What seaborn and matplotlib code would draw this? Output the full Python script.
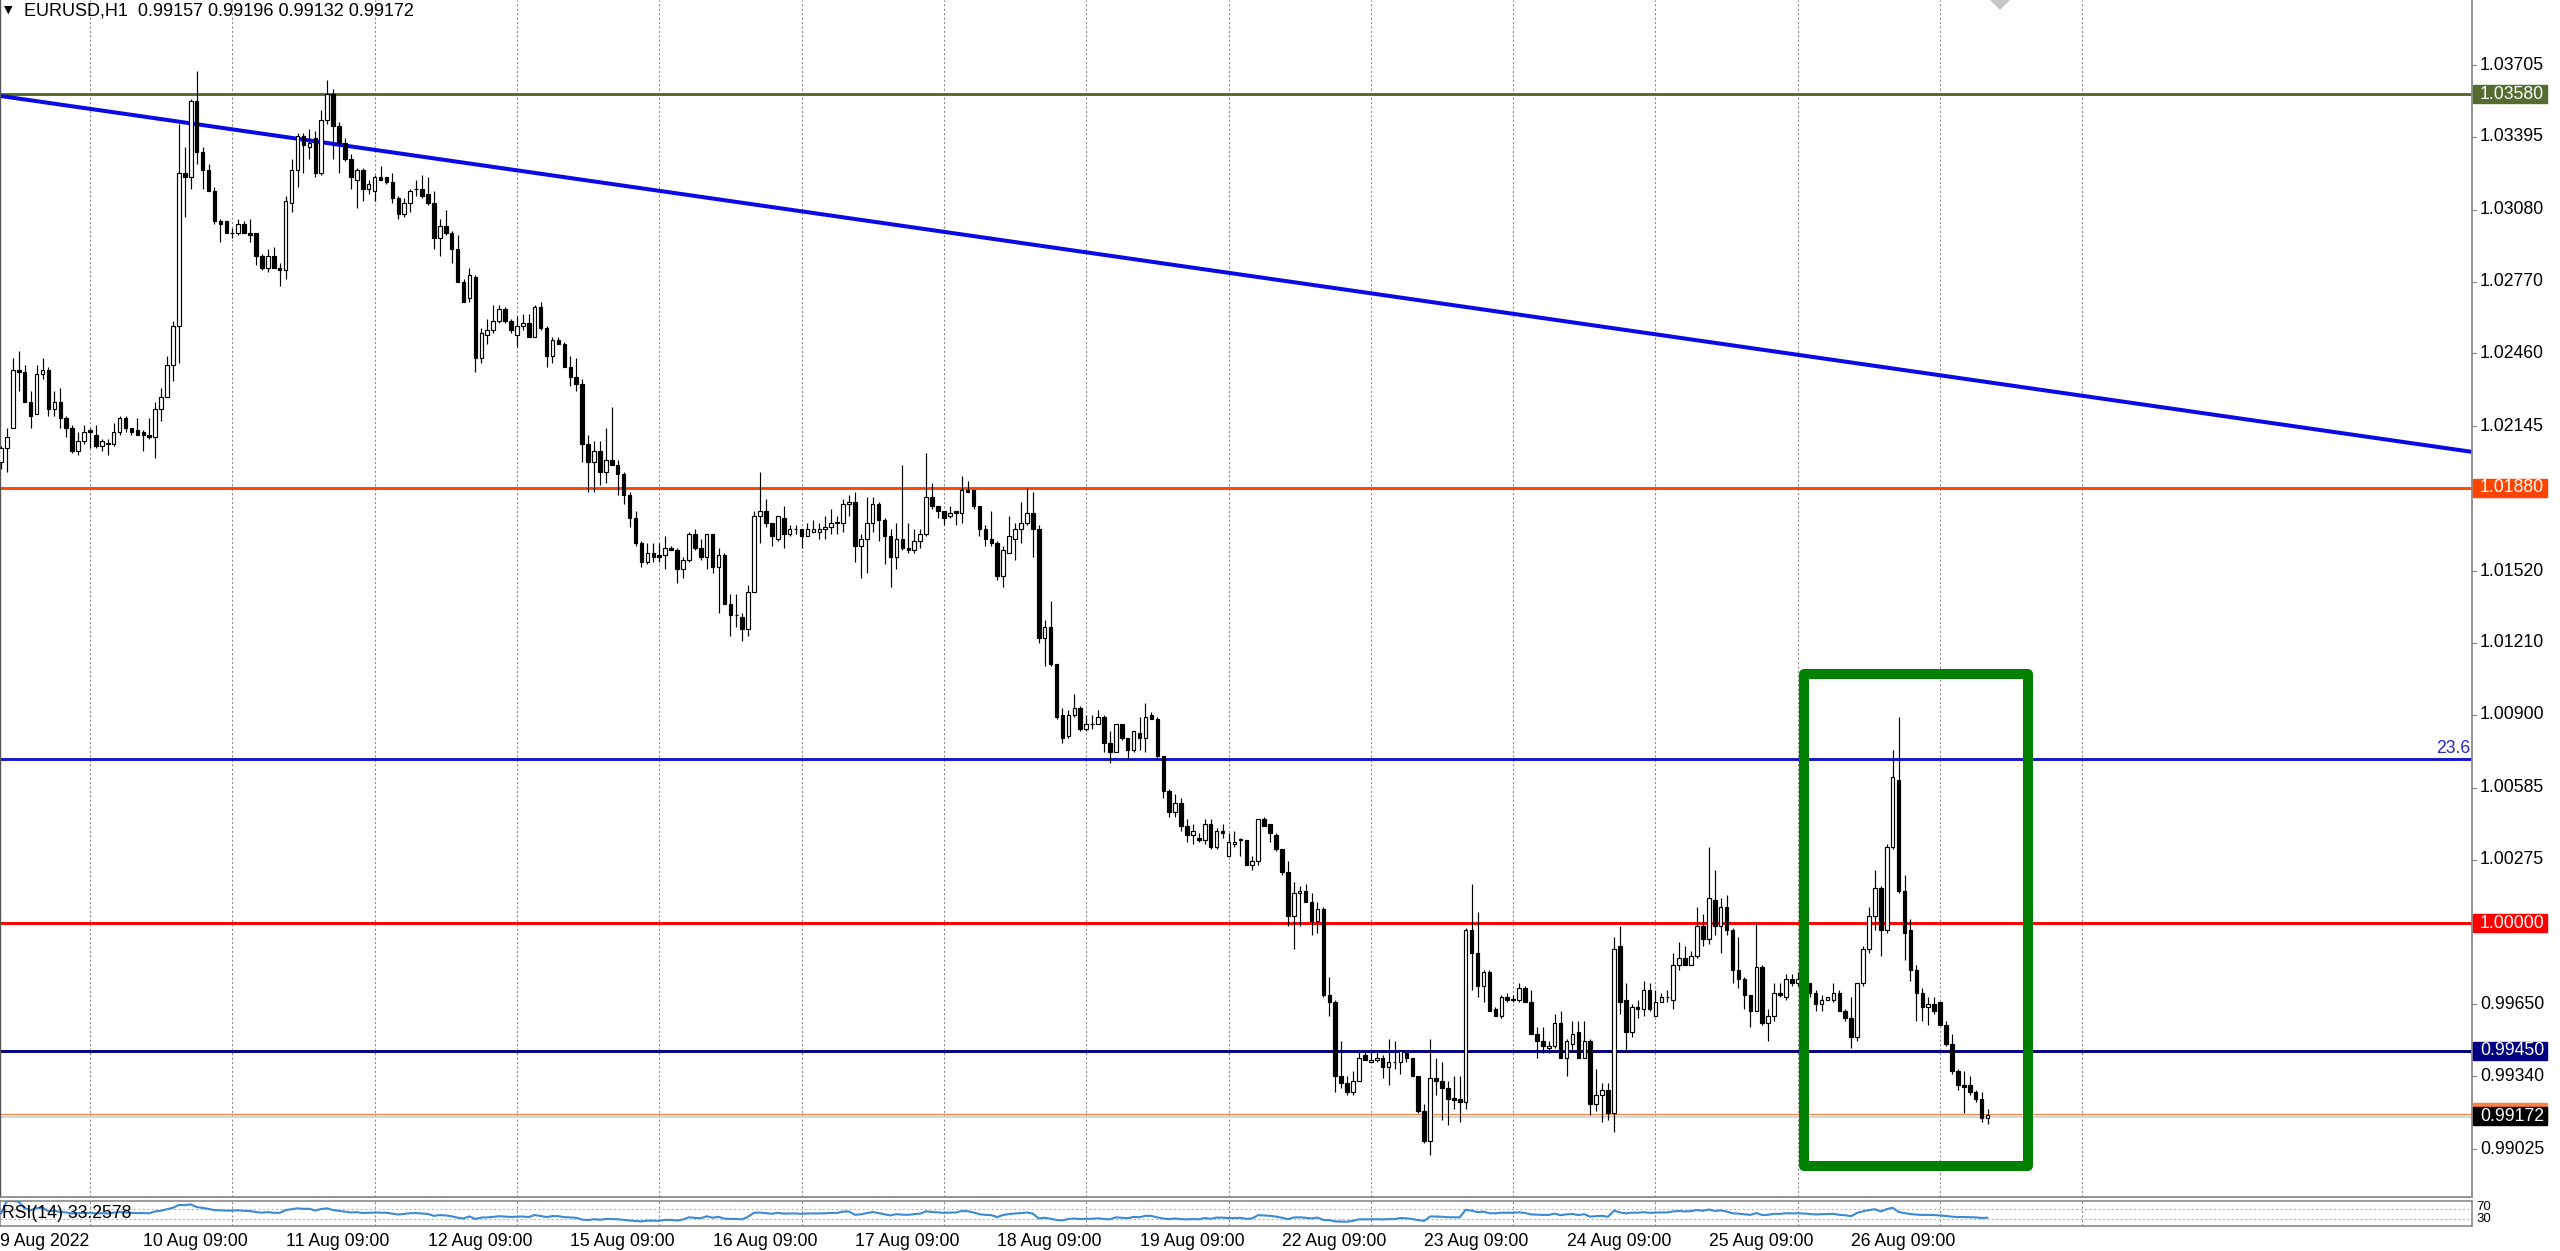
import numpy as np
import pandas as pd
import matplotlib
matplotlib.use("Agg")
import matplotlib.pyplot as plt
import seaborn as sns
from matplotlib.patches import Rectangle, Polygon

# ---------------- data ----------------
opens = [
    1.0199, 1.0205, 1.0214, 1.0239, 1.0238, 1.0225, 1.0220, 1.0237, 1.0239, 1.0222,
    1.0225, 1.0218, 1.0214, 1.0204, 1.0208, 1.0213, 1.0211, 1.0206, 1.0207, 1.0207,
    1.0212, 1.0218, 1.0214, 1.0213, 1.0212, 1.0211, 1.0210, 1.0222, 1.0227, 1.0241,
    1.0258, 1.0324, 1.0322, 1.0355, 1.0333, 1.0325, 1.0316, 1.0303, 1.0303, 1.0298,
    1.0298, 1.0302, 1.0298, 1.0298, 1.0288, 1.0283, 1.0288, 1.0283, 1.0282, 1.0311,
    1.0325, 1.0340, 1.0335, 1.0339, 1.0324, 1.0347, 1.0358, 1.0344, 1.0337, 1.0330,
    1.0321, 1.0325, 1.0317, 1.0316, 1.0322, 1.0322, 1.0320, 1.0313, 1.0306, 1.0311,
    1.0317, 1.0317, 1.0315, 1.0311, 1.0296, 1.0301, 1.0298, 1.0291, 1.0277, 1.0270,
    1.0279, 1.0244, 1.0254, 1.0256, 1.0260, 1.0265, 1.0260, 1.0254, 1.0258, 1.0259,
    1.0253, 1.0266, 1.0257, 1.0245, 1.0252, 1.0250, 1.0240, 1.0236, 1.0233, 1.0207,
    1.0199, 1.0204, 1.0195, 1.0200, 1.0198, 1.0194, 1.0185, 1.0175, 1.0164, 1.0156,
    1.0160, 1.0159, 1.0159, 1.0162, 1.0161, 1.0153, 1.0157, 1.0168, 1.0162, 1.0158,
    1.0168, 1.0154, 1.0159, 1.0138, 1.0133, 1.0132, 1.0127, 1.0143, 1.0176, 1.0178,
    1.0173, 1.0166, 1.0175, 1.0168, 1.0170, 1.0170, 1.0167, 1.0169, 1.0169, 1.0170,
    1.0171, 1.0173, 1.0173, 1.0181, 1.0182, 1.0163, 1.0166, 1.0173, 1.0181, 1.0174,
    1.0167, 1.0158, 1.0166, 1.0162, 1.0161, 1.0165, 1.0168, 1.0184, 1.0180, 1.0178,
    1.0176, 1.0178, 1.0177, 1.0187, 1.0187, 1.0180, 1.0170, 1.0166, 1.0164, 1.0150,
    1.0160, 1.0166, 1.0170, 1.0173, 1.0177, 1.0170, 1.0123, 1.0128, 1.0112, 1.0090,
    1.0081, 1.0090, 1.0093, 1.0084, 1.0086, 1.0086, 1.0089, 1.0078, 1.0074, 1.0086,
    1.0080, 1.0075, 1.0082, 1.0080, 1.0090, 1.0088, 1.0072, 1.0057, 1.0048, 1.0052,
    1.0042, 1.0038, 1.0037, 1.0036, 1.0043, 1.0033, 1.0040, 1.0029, 1.0034, 1.0036,
    1.0036, 1.0025, 1.0027, 1.0045, 1.0043, 1.0038, 1.0032, 1.0022, 1.0003, 1.0013,
    1.0014, 1.0009, 1.0001, 1.0006, 0.9969, 0.9966, 0.9934, 0.9931, 0.9927, 0.9932,
    0.9943, 0.9940, 0.9941, 0.9942, 0.9938, 0.9940, 0.9940, 0.9944, 0.9942, 0.9934,
    0.9919, 0.9906, 0.9933, 0.9932, 0.9929, 0.99245, 0.9924, 0.9923, 0.9997, 0.9987,
    0.9973, 0.9979, 0.9963, 0.9960, 0.9968, 0.9967, 0.9967, 0.9972, 0.9966, 0.9952,
    0.9949, 0.9946, 0.9947, 0.9957, 0.9942, 0.9948, 0.9953, 0.9942, 0.9949, 0.9922,
    0.9926, 0.9928, 0.9918, 0.9990, 0.9967, 0.9953, 0.9964, 0.9963, 0.9971, 0.9960,
    0.9966, 0.9968, 0.9967, 0.9982, 0.9985, 0.9982, 0.9986, 0.9999, 0.9993, 1.0010,
    0.9999, 1.0007, 0.9997, 0.9980, 0.9976, 0.9969, 0.9962, 0.9981, 0.9957, 0.9960,
    0.9970, 0.9968, 0.9976, 0.9974, 0.9975, 0.9974, 0.9970, 0.9965, 0.9967, 0.9967,
    0.9970, 0.9962, 0.9959, 0.9951, 0.9974, 0.9989, 1.0003, 1.0015, 0.9997, 1.0033,
    1.0062, 1.0014, 0.9997, 0.9980, 0.9970, 0.9964, 0.9965, 0.9966, 0.9956, 0.9948,
    0.9936, 0.9930, 0.9930, 0.9927, 0.9924, 0.99157,
]
highs = [
    1.0206, 1.0214, 1.0244, 1.0247, 1.0241, 1.0230, 1.0241, 1.0244, 1.0240, 1.0230,
    1.0231, 1.0219, 1.0215, 1.0212, 1.0215, 1.0214, 1.0215, 1.0209, 1.0209, 1.0216,
    1.0219, 1.0219, 1.0214, 1.0218, 1.0213, 1.0218, 1.0225, 1.0231, 1.0245, 1.0260,
    1.0345, 1.0335, 1.0356, 1.0368, 1.0335, 1.0328, 1.0318, 1.0304, 1.0303, 1.0300,
    1.0304, 1.0303, 1.0304, 1.0298, 1.0289, 1.0291, 1.0292, 1.0285, 1.0314, 1.0330,
    1.0341, 1.0341, 1.0343, 1.0342, 1.0351, 1.0364, 1.0360, 1.0346, 1.0339, 1.0332,
    1.0326, 1.0326, 1.0321, 1.0323, 1.0327, 1.0322, 1.0324, 1.0314, 1.0313, 1.0317,
    1.0321, 1.0323, 1.0322, 1.0316, 1.0304, 1.0308, 1.0299, 1.0297, 1.0278, 1.0283,
    1.0280, 1.0257, 1.0261, 1.0267, 1.0267, 1.0266, 1.0261, 1.0262, 1.0263, 1.0263,
    1.0267, 1.0268, 1.0258, 1.0253, 1.0253, 1.0251, 1.0245, 1.0244, 1.0235, 1.0211,
    1.0208, 1.0208, 1.0214, 1.0223, 1.0200, 1.0195, 1.0186, 1.0178, 1.0165, 1.0164,
    1.0164, 1.0164, 1.0167, 1.0163, 1.0162, 1.0158, 1.0169, 1.0170, 1.0166, 1.0168,
    1.0168, 1.0162, 1.0160, 1.0142, 1.0142, 1.0134, 1.0146, 1.0178, 1.0195, 1.0183,
    1.0173, 1.0176, 1.0180, 1.0172, 1.0172, 1.0170, 1.0173, 1.0174, 1.0173, 1.0176,
    1.0179, 1.0176, 1.0183, 1.0185, 1.0186, 1.0168, 1.0184, 1.0184, 1.0182, 1.0175,
    1.0170, 1.0173, 1.0198, 1.0173, 1.0170, 1.0170, 1.0203, 1.0190, 1.0180, 1.0178,
    1.0180, 1.0178, 1.0193, 1.0191, 1.0187, 1.0180, 1.0172, 1.0178, 1.0165, 1.0163,
    1.0176, 1.0173, 1.0182, 1.0188, 1.0186, 1.0172, 1.0131, 1.0139, 1.0112, 1.0093,
    1.0092, 1.0099, 1.0094, 1.0090, 1.0090, 1.0092, 1.0090, 1.0083, 1.0086, 1.0086,
    1.0080, 1.0083, 1.0089, 1.0095, 1.0091, 1.0089, 1.0072, 1.0058, 1.0056, 1.0054,
    1.0045, 1.0043, 1.0039, 1.0045, 1.0045, 1.0041, 1.0043, 1.0039, 1.0040, 1.0037,
    1.0036, 1.0029, 1.0045, 1.0046, 1.0043, 1.0039, 1.0032, 1.0027, 1.0018, 1.0016,
    1.0017, 1.0013, 1.0009, 1.0007, 0.9977, 0.9967, 0.9949, 0.9934, 0.9936, 0.9945,
    0.9945, 0.9945, 0.9945, 0.9943, 0.9950, 0.9949, 0.9945, 0.9945, 0.9942, 0.9934,
    0.9922, 0.9950, 0.9942, 0.9940, 0.9932, 0.9934, 0.9934, 0.9998, 1.0017, 1.0005,
    0.9980, 0.9980, 0.9964, 0.9969, 0.9970, 0.9969, 0.9974, 0.9973, 0.9971, 0.9955,
    0.9955, 0.9949, 0.9961, 0.9962, 0.9950, 0.9958, 0.9958, 0.9958, 0.9950, 0.9937,
    0.9931, 0.9931, 0.9994, 0.9999, 0.9974, 0.9965, 0.9967, 0.9975, 0.9974, 0.9971,
    0.9970, 0.9971, 0.9987, 0.9992, 0.9990, 0.9988, 1.0007, 1.0004, 1.0033, 1.0023,
    1.0011, 1.0012, 0.9998, 0.9994, 0.9977, 0.9969, 1.0000, 0.9982, 0.9963, 0.9974,
    0.9974, 0.9978, 0.9978, 0.9979, 0.9977, 0.9974, 0.9971, 0.9969, 0.9968, 0.9974,
    0.9971, 0.9963, 0.9968, 0.9974, 0.9990, 1.0007, 1.0023, 1.0016, 1.0034, 1.0075,
    1.0089, 1.0021, 1.0002, 0.9982, 0.9972, 0.9968, 0.9968, 0.9966, 0.9958, 0.9952,
    0.9937, 0.9936, 0.9934, 0.9928, 0.9927, 0.99196,
]
lows = [
    1.0196, 1.0195, 1.0214, 1.0230, 1.0225, 1.0214, 1.0220, 1.0235, 1.0219, 1.0219,
    1.0214, 1.0210, 1.0203, 1.0202, 1.0207, 1.0205, 1.0205, 1.0204, 1.0202, 1.0206,
    1.0211, 1.0212, 1.0211, 1.0211, 1.0204, 1.0209, 1.0201, 1.0217, 1.0227, 1.0234,
    1.0242, 1.0305, 1.0317, 1.0328, 1.0317, 1.0316, 1.0302, 1.0294, 1.0298, 1.0296,
    1.0297, 1.0298, 1.0294, 1.0284, 1.0282, 1.0281, 1.0283, 1.0275, 1.0278, 1.0307,
    1.0318, 1.0324, 1.0330, 1.0322, 1.0323, 1.0345, 1.0330, 1.0324, 1.0329, 1.0317,
    1.0309, 1.0312, 1.0315, 1.0312, 1.0321, 1.0319, 1.0311, 1.0304, 1.0305, 1.0307,
    1.0314, 1.0313, 1.0310, 1.0291, 1.0288, 1.0297, 1.0285, 1.0277, 1.0268, 1.0268,
    1.0238, 1.0242, 1.0250, 1.0255, 1.0259, 1.0259, 1.0255, 1.0249, 1.0256, 1.0253,
    1.0253, 1.0256, 1.0240, 1.0242, 1.0250, 1.0240, 1.0232, 1.0230, 1.0199, 1.0186,
    1.0186, 1.0189, 1.0190, 1.0198, 1.0185, 1.0181, 1.0171, 1.0163, 1.0154, 1.0155,
    1.0156, 1.0156, 1.0153, 1.0161, 1.0147, 1.0149, 1.0156, 1.0161, 1.0157, 1.0153,
    1.0151, 1.0134, 1.0138, 1.0124, 1.0128, 1.0122, 1.0124, 1.0143, 1.0164, 1.0171,
    1.0163, 1.0165, 1.0162, 1.0167, 1.0168, 1.0162, 1.0167, 1.0169, 1.0166, 1.0166,
    1.0168, 1.0168, 1.0169, 1.0176, 1.0156, 1.0149, 1.0151, 1.0169, 1.0165, 1.0155,
    1.0145, 1.0153, 1.0161, 1.0160, 1.0160, 1.0162, 1.0167, 1.0179, 1.0175, 1.0172,
    1.0175, 1.0172, 1.0173, 1.0186, 1.0179, 1.0167, 1.0163, 1.0163, 1.0148, 1.0145,
    1.0160, 1.0157, 1.0164, 1.0172, 1.0158, 1.0121, 1.0111, 1.0111, 1.0088, 1.0078,
    1.0080, 1.0089, 1.0083, 1.0083, 1.0084, 1.0086, 1.0074, 1.0069, 1.0074, 1.0079,
    1.0071, 1.0074, 1.0075, 1.0074, 1.0088, 1.0071, 1.0054, 1.0046, 1.0046, 1.0040,
    1.0035, 1.0034, 1.0035, 1.0034, 1.0032, 1.0032, 1.0037, 1.0029, 1.0033, 1.0029,
    1.0025, 1.0023, 1.0025, 1.0042, 1.0035, 1.0031, 1.0021, 0.9999, 0.9989, 0.9999,
    1.0009, 0.9995, 0.9996, 0.9968, 0.9960, 0.9927, 0.9929, 0.9926, 0.9926, 0.9932,
    0.9941, 0.9940, 0.9940, 0.9933, 0.9930, 0.9937, 0.9935, 0.9940, 0.9934, 0.9918,
    0.9905, 0.9900, 0.9926, 0.9915, 0.9913, 0.9920, 0.9914, 0.9920, 0.9971, 0.9968,
    0.9966, 0.9962, 0.9960, 0.9959, 0.9966, 0.9966, 0.9966, 0.9966, 0.9952, 0.9942,
    0.9944, 0.9944, 0.9946, 0.9942, 0.9934, 0.9945, 0.9942, 0.9942, 0.9917, 0.9919,
    0.9914, 0.9915, 0.9910, 0.9961, 0.9945, 0.9951, 0.9959, 0.9960, 0.9962, 0.9960,
    0.9966, 0.9966, 0.9963, 0.9980, 0.9982, 0.9982, 0.9985, 0.9990, 0.9991, 0.9995,
    0.9987, 0.9995, 0.9974, 0.9972, 0.9963, 0.9955, 0.9962, 0.9956, 0.9949, 0.9958,
    0.9968, 0.9967, 0.9973, 0.9973, 0.9971, 0.9968, 0.9962, 0.9962, 0.9967, 0.9966,
    0.9962, 0.9958, 0.9946, 0.9949, 0.9973, 0.9987, 0.9997, 0.9986, 0.9996, 1.0032,
    1.0013, 0.9984, 0.9975, 0.9958, 0.9958, 0.9956, 0.9961, 0.9956, 0.9947, 0.9935,
    0.9928, 0.9918, 0.9926, 0.9923, 0.9914, 0.99132,
]
closes = [
    1.0205, 1.0210, 1.0239, 1.0238, 1.0225, 1.0219, 1.0237, 1.0239, 1.0222, 1.0225,
    1.0218, 1.0214, 1.0204, 1.0208, 1.0212, 1.0212, 1.0206, 1.0208, 1.0207, 1.0212,
    1.0218, 1.0214, 1.0212, 1.0211, 1.0211, 1.0210, 1.0222, 1.0227, 1.0241, 1.0258,
    1.0324, 1.0322, 1.0355, 1.0333, 1.0325, 1.0316, 1.0303, 1.0302, 1.0298, 1.0298,
    1.0302, 1.0298, 1.0297, 1.0288, 1.0283, 1.0288, 1.0283, 1.0282, 1.0312, 1.0325,
    1.0340, 1.0336, 1.0337, 1.0324, 1.0347, 1.0358, 1.0344, 1.0337, 1.0330, 1.0322,
    1.0325, 1.0317, 1.0319, 1.0322, 1.0321, 1.0320, 1.0313, 1.0306, 1.0311, 1.0316,
    1.0317, 1.0314, 1.0311, 1.0296, 1.0301, 1.0298, 1.0291, 1.0277, 1.0268, 1.0280,
    1.0244, 1.0255, 1.0256, 1.0260, 1.0265, 1.0260, 1.0256, 1.0258, 1.0259, 1.0253,
    1.0266, 1.0257, 1.0245, 1.0252, 1.0250, 1.0240, 1.0236, 1.0233, 1.0207, 1.0199,
    1.0204, 1.0195, 1.0200, 1.0198, 1.0194, 1.0185, 1.0175, 1.0164, 1.0156, 1.0160,
    1.0158, 1.0158, 1.0162, 1.0161, 1.0153, 1.0157, 1.0168, 1.0162, 1.0158, 1.0168,
    1.0154, 1.0159, 1.0138, 1.0133, 1.0133, 1.0127, 1.0143, 1.0176, 1.0178, 1.0173,
    1.0167, 1.0176, 1.0168, 1.0170, 1.0170, 1.0167, 1.0170, 1.0170, 1.0170, 1.0171,
    1.0173, 1.0173, 1.0181, 1.0182, 1.0163, 1.0166, 1.0173, 1.0181, 1.0174, 1.0167,
    1.0158, 1.0166, 1.0162, 1.0161, 1.0165, 1.0168, 1.0184, 1.0180, 1.0178, 1.0175,
    1.0177, 1.0177, 1.0187, 1.0186, 1.0180, 1.0170, 1.0166, 1.0164, 1.0150, 1.0161,
    1.0167, 1.0170, 1.0173, 1.0177, 1.0170, 1.0123, 1.0128, 1.0112, 1.0089, 1.0080,
    1.0090, 1.0093, 1.0084, 1.0086, 1.0086, 1.0089, 1.0078, 1.0074, 1.0086, 1.0080,
    1.0075, 1.0083, 1.0080, 1.0089, 1.0088, 1.0072, 1.0057, 1.0048, 1.0052, 1.0042,
    1.0038, 1.0040, 1.0036, 1.0043, 1.0033, 1.0040, 1.0039, 1.0035, 1.0035, 1.0036,
    1.0025, 1.0027, 1.0045, 1.0042, 1.0039, 1.0032, 1.0022, 1.0003, 1.0013, 1.0014,
    1.0009, 1.0001, 1.0006, 0.9969, 0.9966, 0.9934, 0.9931, 0.9927, 0.9932, 0.9942,
    0.9941, 0.9941, 0.9942, 0.9938, 0.9940, 0.9940, 0.9945, 0.9942, 0.9934, 0.9919,
    0.9906, 0.9933, 0.9932, 0.9929, 0.9924, 0.99235, 0.9923, 0.9997, 0.9987, 0.9973,
    0.9979, 0.9962, 0.9960, 0.9968, 0.9967, 0.9967, 0.9972, 0.9966, 0.9952, 0.9949,
    0.9947, 0.9947, 0.9957, 0.9942, 0.9949, 0.9952, 0.9942, 0.9949, 0.9922, 0.9926,
    0.9928, 0.9918, 0.9989, 0.9966, 0.9953, 0.9964, 0.9963, 0.9971, 0.9963, 0.9966,
    0.9968, 0.9968, 0.9982, 0.9985, 0.9982, 0.9986, 0.9999, 0.9993, 1.0011, 0.9999,
    1.0007, 0.9997, 0.9980, 0.9976, 0.9969, 0.9962, 0.9981, 0.9957, 0.9960, 0.9970,
    0.9969, 0.9976, 0.9974, 0.9976, 0.9973, 0.9970, 0.9965, 0.9967, 0.9968, 0.9970,
    0.9962, 0.9959, 0.9951, 0.9974, 0.9989, 1.0003, 1.0015, 0.9997, 1.0033, 1.0063,
    1.0014, 0.9996, 0.9980, 0.9970, 0.9964, 0.9965, 0.9962, 0.9956, 0.9948, 0.9936,
    0.9930, 0.99295, 0.9927, 0.9924, 0.9916, 0.99172,
]

time_labels = ["9 Aug 2022", "10 Aug 09:00", "11 Aug 09:00", "12 Aug 09:00", "15 Aug 09:00",
               "16 Aug 09:00", "17 Aug 09:00", "18 Aug 09:00", "19 Aug 09:00", "22 Aug 09:00",
               "23 Aug 09:00", "24 Aug 09:00", "25 Aug 09:00", "26 Aug 09:00"]
label_bars = [0, 24, 48, 72, 96, 120, 144, 168, 192, 216, 240, 264, 288, 312]
grid_bars = [15, 39, 63, 87, 111, 135, 159, 183, 207, 231, 255, 279, 303, 327, 351]

price_labels = ["1.03705", "1.03395", "1.03080", "1.02770", "1.02460", "1.02145", "1.01520",
                "1.01210", "1.00900", "1.00585", "1.00275", "0.99650", "0.99340", "0.99025"]

level_prices = [1.03580, 1.01880, 1.00710, 1.00000, 0.99450]
level_colors = ["#556B2F", "#FF4500", "#1414C8", "#FF0000", "#000080"]

tag_texts = ["1.03580", "1.01880", "1.00000", "0.99450"]
tag_colors = ["#556B2F", "#FF4500", "#FF0000", "#000080"]
last_price = 0.99172

trend_bars = [-0.17, 416.7]
trend_prices = [1.03572, 1.02035]

box_bars = [304.1, 341.9]
box_prices = [0.98950, 1.01075]

fib_text = "23.6"
title_text = "EURUSD,H1  0.99157 0.99196 0.99132 0.99172"
rsi_text = "RSI(14) 33.2578"
rsi_levels = [30, 70]
rsi_scale_labels = ["70", "30"]

assert len(opens) == len(highs) == len(lows) == len(closes), (len(opens), len(highs), len(lows), len(closes))

# ---------------- layout (pixels of the 2560x1251 picture) ----------------
W, H, DPI = 2560, 1251, 100
PLOT_R = 2472
MAIN_B = 1197
RSI_T, RSI_B = 1201, 1226
BAR_PX = 5.93
BAR0_PX = 1.0
PX_PER_PRICE = 23162.0
Y_TOP = 1.03986
Y_BOT = Y_TOP - MAIN_B / PX_PER_PRICE
U = 1.0 / PX_PER_PRICE

sns.set_theme(style="white")
plt.rcParams["font.family"] = ["Liberation Sans", "DejaVu Sans"]
FS = 12.7

fig = plt.figure(figsize=(W / DPI, H / DPI), dpi=DPI)
fig.patch.set_facecolor("white")


def fx(px):
    return px / W


def fy(py):
    return 1 - py / H


xlim = (-BAR0_PX / BAR_PX, (PLOT_R - BAR0_PX) / BAR_PX)

df = pd.DataFrame({"open": opens, "high": highs, "low": lows, "close": closes})
df["bar"] = np.arange(len(df))

# ---------------- main price panel ----------------
ax = fig.add_axes([0, fy(MAIN_B), PLOT_R / W, MAIN_B / H])
ax.set_facecolor("white")
ax.set_xlim(*xlim)
ax.set_ylim(Y_BOT, Y_TOP)
ax.set_xticks([])
ax.set_yticks([])
ax.grid(False)
ax.spines["top"].set_visible(False)
ax.spines["right"].set_color("#8a8a8a")
ax.spines["right"].set_linewidth(1.3)
ax.spines["bottom"].set_color("#8a8a8a")
ax.spines["bottom"].set_linewidth(1.3)
ax.spines["left"].set_color("#555555")
ax.spines["left"].set_linewidth(1.0)

for gb in grid_bars:
    ax.axvline(gb, color="#8c8c8c", lw=0.8, ls=(0, (2, 2)), zorder=1)

# horizontal levels
for p, c in zip(level_prices, level_colors):
    ax.axhline(p, color=c, lw=2.1, zorder=2)
ax.axhline(last_price + 1.5 * U, color="#FF7F3F", lw=0.8, zorder=2)
ax.axhline(last_price - 2.0 * U, color="#D2D2D2", lw=1.3, zorder=2)

# trend line
ax.plot(trend_bars, trend_prices, color="#0A0AE6", lw=2.9, solid_capstyle="butt", zorder=2)

# candles
up = df["close"] >= df["open"]
ax.vlines(df["bar"], df["low"], df["high"], color="black", lw=0.85, zorder=3)
body_lo = np.minimum(df["open"], df["close"])
body_h = np.maximum((df["close"] - df["open"]).abs(), 0.5 * U)
ax.bar(df["bar"], body_h, bottom=body_lo, width=0.6,
       color=np.where(up, "white", "black"), edgecolor="black", linewidth=0.85, zorder=4)

# green box
ax.add_patch(Rectangle((box_bars[0], box_prices[0]), box_bars[1] - box_bars[0],
                       box_prices[1] - box_prices[0], fill=False, edgecolor="#008000",
                       lw=7.2, joinstyle="round", zorder=6))

# 23.6 label
ax.text((PLOT_R - 2 - BAR0_PX) / BAR_PX, level_prices[2] + 2 * U, fib_text, ha="right", va="bottom",
        fontsize=FS, color="#2828C8", zorder=7)

# ---------------- price scale ----------------
axp = fig.add_axes([fx(PLOT_R), fy(MAIN_B), (W - PLOT_R) / W, MAIN_B / H])
axp.set_xlim(0, W - PLOT_R)
axp.set_ylim(Y_BOT, Y_TOP)
axp.axis("off")
for t in price_labels:
    p = float(t)
    axp.plot([0, 4], [p, p], color="#808080", lw=0.8, clip_on=False)
    axp.text(8, p, t, ha="left", va="center", fontsize=FS, color="black", clip_on=False)

for t, c in zip(tag_texts, tag_colors):
    p = float(t)
    axp.add_patch(Rectangle((1, p - 9 * U), 74, 18 * U, color=c, zorder=5, clip_on=False))
    axp.text(8, p, t, ha="left", va="center", fontsize=FS, color="white", zorder=6, clip_on=False)
# last price tag (with the orange ask strip above it)
axp.add_patch(Rectangle((1, last_price - 6 * U), 74, 18 * U, color="#FF7F3F", zorder=5, clip_on=False))
axp.add_patch(Rectangle((1, last_price - 10 * U), 74, 18 * U, color="black", zorder=6, clip_on=False))
axp.text(8, last_price - 1 * U, f"{last_price:.5f}", ha="left", va="center", fontsize=FS,
         color="white", zorder=7, clip_on=False)

# ---------------- RSI panel ----------------
def wilder_rsi(c, n=14):
    c = np.asarray(c, dtype=float)
    d = np.diff(c)
    g = np.clip(d, 0, None)
    l = np.clip(-d, 0, None)
    out = np.full(len(c), 50.0)
    ag = al = 0.0
    for i in range(1, len(c)):
        k = min(i, n)
        ag += (g[i - 1] - ag) / k
        al += (l[i - 1] - al) / k
        out[i] = 100.0 if al == 0 else 100 - 100 / (1 + ag / al)
    return out


df["rsi"] = wilder_rsi(df["close"])

axr = fig.add_axes([0, fy(RSI_B), PLOT_R / W, (RSI_B - RSI_T) / H])
axr.set_facecolor("white")
axr.set_xlim(*xlim)
axr.set_ylim(0, 100)
axr.set_xticks([])
axr.set_yticks([])
for s in axr.spines.values():
    s.set_color("#8a8a8a")
    s.set_linewidth(1.2)
for gb in grid_bars:
    axr.axvline(gb, color="#8c8c8c", lw=0.8, ls=(0, (2, 2)), zorder=1)
for lv in rsi_levels:
    axr.axhline(lv, color="#b4b4b4", lw=0.8, ls=(0, (2, 2)), zorder=1)
sns.lineplot(data=df, x="bar", y="rsi", ax=axr, color="#3A8AD6", lw=1.5, legend=False, zorder=3)
axr.set_xlabel("")
axr.set_ylabel("")
axr.set_xlim(*xlim)
axr.set_ylim(0, 100)

fig.text(fx(2), fy(1213), rsi_text, ha="left", va="center", fontsize=FS, color="black")
rsi_label_y = {"70": 1206.5, "30": 1219.5}
for t in rsi_scale_labels:
    fig.text(fx(2476), fy(rsi_label_y[t]), t, ha="left", va="center", fontsize=9.5, color="black")

# ---------------- time scale ----------------
for b, t in zip(label_bars, time_labels):
    xp = 0 if b == 0 else BAR0_PX + BAR_PX * b
    fig.text(fx(xp), fy(1241), t, ha="left", va="center", fontsize=FS, color="black")

# ---------------- title ----------------
fig.text(fx(4), fy(10), "\u25BC", ha="left", va="center", fontsize=8, color="black",
         family=["DejaVu Sans"])
fig.text(fx(24), fy(11), title_text, ha="left", va="center", fontsize=FS + 0.3, color="black")

# grey marker at the top edge
fig.add_artist(Polygon([[fx(1991), fy(0)], [fx(2000), fy(9)], [fx(2009), fy(0)]],
                       closed=True, color="#C4C4C4", transform=fig.transFigure))

fig.savefig("out.png", dpi=DPI, facecolor="white")
